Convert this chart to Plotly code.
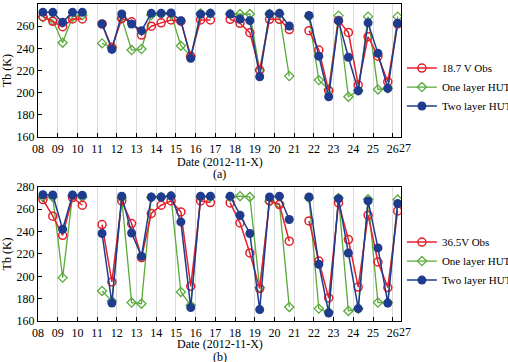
import plotly.graph_objects as go

# x positions: two passes per day (d+0.25, d+0.75); None breaks the line
x_pos = [8.25, 8.75, 9.25, 9.75, 10.25, None,
         11.25, 11.75, 12.25, 12.75, 13.25, 13.75, 14.25, 14.75, 15.25, 15.75, 16.25, 16.75, None,
         17.75, 18.25, 18.75, 19.25, 19.75, 20.25, 20.75, None,
         21.75, 22.25, 22.75, 23.25, 23.75, 24.25, 24.75, 25.25, 25.75, 26.25]

# Panel (a): 18.7 GHz V
obs_187 = [268.6, 264.4, 259.5, 266.5, 266.5, None,
           262, 240.6, 267, 264, 252, 260, 263, 265.6, 264.5, 233, 265.6, 265.6, None,
           266.2, 262.6, 254.1, 220.5, 266.2, 266.2, 257, None,
           256, 238.5, 201.8, 265, 254.4, 207, 250.5, 233, 210, 262]
one_187 = [268, 265.5, 245.1, 268.5, 270, None,
           244.5, 241, 267, 238.5, 239.4, 270, 271, 271, 242.4, 233, 271.5, 271.5, None,
           271, 271, 271, 220, 271, 271, 215, None,
           269, 211.4, 203, 269.5, 196.4, 202, 268.6, 203, 204, 268.6]
two_187 = [272.5, 272.5, 263.5, 272.5, 272.5, None,
           262, 239.1, 271, 262, 256, 271.6, 271.6, 272, 265, 231, 270.8, 271.6, None,
           271, 266.5, 265, 214.4, 271, 271.6, 260.2, None,
           269.6, 233, 196.4, 265, 232, 201.8, 263, 235.5, 203.9, 262.6]

# Panel (b): 36.5 GHz V
obs_365 = [268.7, 253.8, 236.7, 270.5, 263.6, None,
           246.3, 195, 267.5, 247.2, 216.8, 256.2, 263.6, 267.5, 257.6, 191, 267.5, 266, None,
           265.7, 247.8, 220.9, 189, 267.5, 264.2, 231.4, None,
           249.6, 213.7, 180.6, 265.7, 232.9, 190.4, 254.7, 212.8, 189.9, 258.5]
one_365 = [271, 271, 198.8, 272, 271, None,
           186.9, 178, 270, 176.5, 175.5, 270.5, 271, 271.5, 186, 174, 271, 271, None,
           271, 271.7, 271, 190, 267, 265, 172.6, None,
           270, 171.1, 168, 270, 169, 171, 269, 176.5, 176.5, 268.7]
two_365 = [273, 272.8, 242.1, 272.8, 272.5, None,
           238.3, 176, 271.7, 238.8, 217.9, 271, 271, 272, 248.7, 172, 271.7, 271.7, None,
           271.7, 254.6, 238.3, 170.2, 271, 271.7, 250.8, None,
           271, 210.8, 167.2, 269.5, 220.9, 171.1, 267.5, 225.4, 176, 265.1]

tick_vals = list(range(8, 27))
tick_text = ["08", "09", "10", "11", "12", "13", "14", "15", "16", "17",
             "18", "19", "20", "21", "22", "23", "24", "25", "26", "27"]
x_start = 8
x_end = 26.42
last_label_x = 26.6   # the "27" label sits just past the right frame in the original
y_ticks = [160, 180, 200, 220, 240, 260, 280]

RED = "#e3202b"
GREEN = "#5aaa3a"
BLUE = "#1f3b8e"
FONT = "Liberation Serif"
TXT = dict(family=FONT, size=12, color="black")

fig = go.Figure()

def add_panel(obs, one, two, obs_name, xa, ya, legend):
    fig.add_trace(go.Scatter(x=x_pos, y=one, name="One layer HUT", mode="lines+markers",
                             xaxis=xa, yaxis=ya, legend=legend, legendrank=2,
                             line=dict(color=GREEN, width=1.3),
                             marker=dict(symbol="diamond-open", size=7, color=GREEN,
                                         line=dict(width=1.3, color=GREEN))))
    fig.add_trace(go.Scatter(x=x_pos, y=obs, name=obs_name, mode="lines+markers",
                             xaxis=xa, yaxis=ya, legend=legend, legendrank=1,
                             line=dict(color=RED, width=1.5),
                             marker=dict(symbol="circle-open", size=8, color=RED,
                                         line=dict(width=1.5, color=RED))))
    fig.add_trace(go.Scatter(x=x_pos, y=two, name="Two layer HUT", mode="lines+markers",
                             xaxis=xa, yaxis=ya, legend=legend, legendrank=3,
                             line=dict(color=BLUE, width=1.5),
                             marker=dict(symbol="circle", size=9, color=BLUE)))

add_panel(obs_187, one_187, two_187, "18.7 V Obs", "x", "y", "legend")
add_panel(obs_365, one_365, two_365, "36.5V Obs", "x2", "y2", "legend2")

xcommon = dict(range=[x_start, x_end], tickvals=tick_vals, ticktext=tick_text[:-1],
               tickangle=0, automargin=True, ticklabelstandoff=0,
               showgrid=True, gridcolor="#dcdcdc", gridwidth=1, zeroline=False,
               showline=True, linecolor="black", linewidth=1.2, mirror=True,
               ticks="inside", ticklen=4, tickcolor="black",
               tickfont=TXT)
ycommon = dict(range=[160, 280], tickvals=y_ticks, showgrid=False, zeroline=False,
               automargin=True,
               showline=True, linecolor="black", linewidth=1.2, mirror=True,
               ticks="inside", ticklen=4, tickcolor="black",
               tickfont=TXT,
               title=dict(text="Tb (K)", font=TXT, standoff=2))

LEG_FONT = dict(family=FONT, size=11, color="black")

last_frac = (last_label_x - x_start) / (x_end - x_start)

annotations = []
for xref, yref, title_y, tag, tag_y in [("x", "y", 0.503, "(a)", 0.464),
                                        ("x2", "y2", -0.074, "(b)", -0.1150)]:
    # last tick label ("27") placed just outside the frame, like the original
    annotations.append(dict(text=tick_text[-1], xref=xref + " domain", yref=yref + " domain",
                            x=last_frac, y=0, yanchor="top", xanchor="center",
                            yshift=-2, showarrow=False, font=TXT))
    annotations.append(dict(text="Date (2012-11-X)", xref="paper", yref="paper", x=0.5,
                            y=title_y, xanchor="center", yanchor="middle",
                            showarrow=False, font=TXT))
    annotations.append(dict(text=tag, xref="paper", yref="paper", x=0.5, y=tag_y,
                            xanchor="center", yanchor="middle", showarrow=False, font=TXT))

fig.update_layout(
    width=508, height=362,
    margin=dict(l=38, r=107, t=4, b=41, autoexpand=False),
    paper_bgcolor="white", plot_bgcolor="white",
    font=TXT,
    xaxis=dict(domain=[0, 1], anchor="y", **xcommon),
    yaxis=dict(domain=[0.580, 1.0], anchor="x", **ycommon),
    xaxis2=dict(domain=[0, 1], anchor="y2", **xcommon),
    yaxis2=dict(domain=[0.0, 0.423], anchor="x2", **ycommon),
    legend=dict(x=1.0025, y=0.738, xanchor="left", yanchor="middle",
                font=LEG_FONT, itemwidth=30, tracegroupgap=0, bgcolor="rgba(0,0,0,0)"),
    legend2=dict(x=1.0025, y=0.189, xanchor="left", yanchor="middle",
                 font=LEG_FONT, itemwidth=30, tracegroupgap=0, bgcolor="rgba(0,0,0,0)"),
    annotations=annotations,
)

fig.write_html("out.html", config={"displayModeBar": False},
               post_script="document.body.style.margin='0px';")
